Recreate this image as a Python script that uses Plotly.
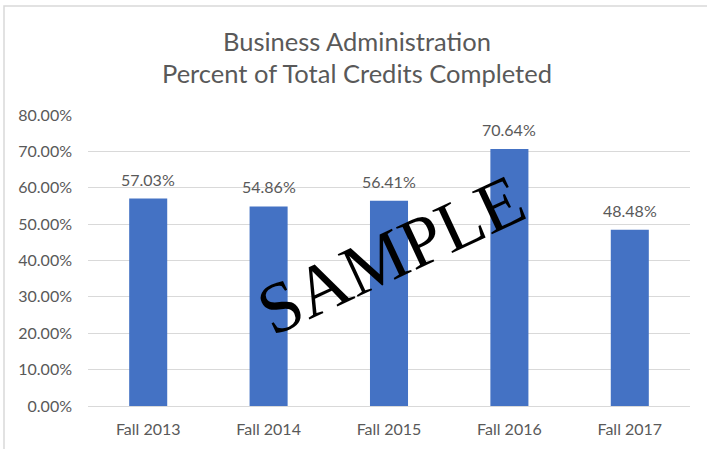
import plotly.graph_objects as go

categories = ["Fall 2013", "Fall 2014", "Fall 2015", "Fall 2016", "Fall 2017"]
values = [0.5703, 0.5486, 0.5641, 0.7064, 0.4848]
y_ticks = [0, 0.1, 0.2, 0.3, 0.4, 0.5, 0.6, 0.7, 0.8]
title_lines = ["Business Administration", "Percent of Total Credits Completed"]
watermark = "SAMPLE"

W, H = 707, 449
L, R, T, B = 88, 17, 115, 43
pw, ph = W - L - R, H - T - B

def px(x):
    return (x - L) / pw

def py(y):
    return (H - B - y) / ph

FONT = "Lato"
GREY = "#595959"

fig = go.Figure()
fig.add_trace(go.Bar(
    x=categories, y=values,
    marker=dict(color="#4472C4", line=dict(width=0)),
    hoverinfo="skip",
))

annotations = []
for c, v in zip(categories, values):
    annotations.append(dict(
        x=c, y=v, xref="x", yref="y", text=f"{v*100:.2f}%",
        showarrow=False, yanchor="bottom", xanchor="center", yshift=8,
        font=dict(family=FONT, size=16, color=GREY),
    ))

for i, line in enumerate(title_lines):
    annotations.append(dict(
        x=px(357), y=py(41 + 32 * i), xref="paper", yref="paper",
        text=line, showarrow=False, xanchor="center", yanchor="middle",
        font=dict(family=FONT, size=25.5, color=GREY),
    ))

annotations.append(dict(
    x=px(391), y=py(255), xref="paper", yref="paper", text=watermark,
    showarrow=False, xanchor="center", yanchor="middle", textangle=-25,
    font=dict(family="Liberation Serif", size=72, color="black"),
))

fig.update_layout(
    width=W, height=H,
    margin=dict(l=L, r=R, t=T, b=B, pad=0, autoexpand=False),
    paper_bgcolor="white", plot_bgcolor="white",
    showlegend=False,
    bargap=0.684,
    annotations=annotations,
    shapes=[dict(type="rect", xref="paper", yref="paper",
                 x0=px(4), x1=px(740), y0=py(480), y1=py(6),
                 line=dict(color="#D9D9D9", width=1.5), layer="below")],
    xaxis=dict(
        automargin=False,
        showgrid=False, showline=True, linecolor="#D9D9D9", linewidth=1,
        ticks="", ticklabelstandoff=9,
        tickfont=dict(family=FONT, size=16, color=GREY),
    ),
    yaxis=dict(
        automargin=False,
        range=[0, 0.8], tickvals=y_ticks, tickformat=".2%",
        showgrid=True, gridcolor="#D9D9D9", gridwidth=1,
        zeroline=False, showline=False, ticks="", ticklabelstandoff=15,
        tickfont=dict(family=FONT, size=16, color=GREY),
    ),
)

fig.write_html(
    "out.html",
    config={"displayModeBar": False},
    post_script="document.body.style.margin='0';document.body.style.overflow='hidden';",
)
